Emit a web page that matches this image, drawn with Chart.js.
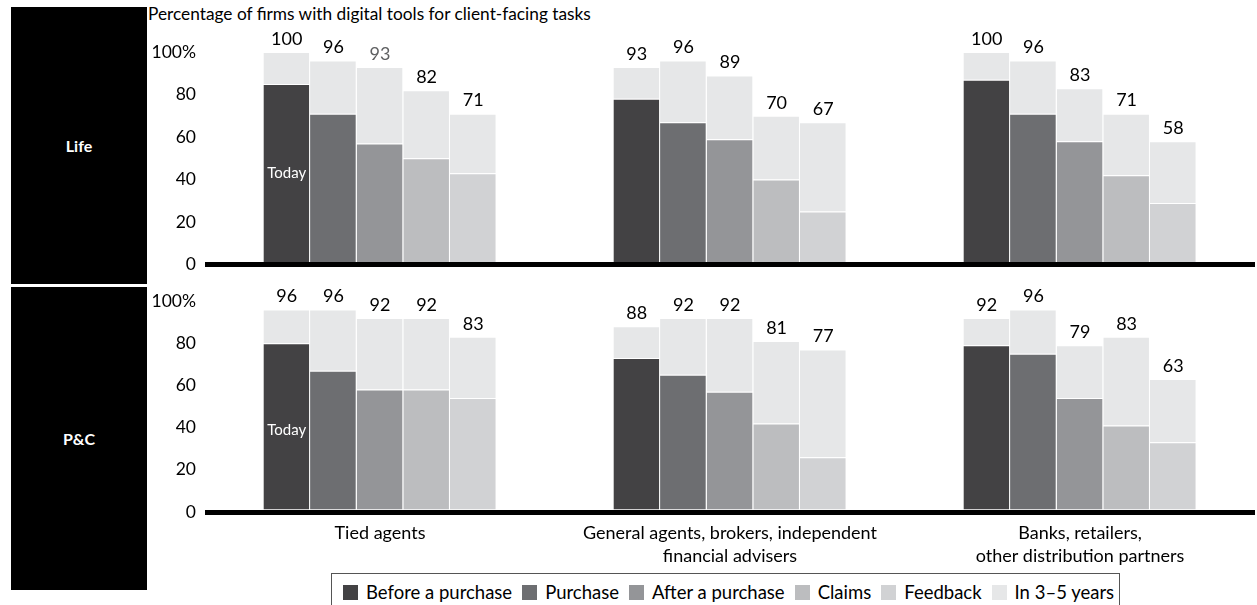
<!DOCTYPE html>
<html>
<head>
<meta charset="utf-8">
<script src="https://cdn.jsdelivr.net/npm/chart.js@4.4.0/dist/chart.umd.min.js"></script>
<style>
  body { margin: 0; width: 1257px; height: 605px; overflow: hidden; background: #fff; position: relative; font-family: Lato, sans-serif; }
  .side { position: absolute; left: 11px; width: 136px; background: #000; color: #fff; font-weight: bold; font-size: 16px; display: flex; align-items: center; justify-content: center; }
  #title { position: absolute; left: 148px; top: 3px; font-size: 17.3px; color: #000; }
  canvas { position: absolute; left: 0; }
  #legend { position: absolute; left: 331px; top: 573px; width: 789px; height: 45px; background: #fff; border: 1px solid #555; box-sizing: border-box; display: flex; align-items: flex-start; padding: 7px 0 0 11px; font-size: 18.5px; }
  #legend span.sw { display: inline-block; width: 15px; height: 15px; margin-right: 8px; vertical-align: -1px; }
  #legend .item { margin-right: 10px; white-space: nowrap; }
</style>
</head>
<body>
<div class="side" style="top:7px;height:277px;">Life</div>
<div class="side" style="top:287px;height:303px;">P&amp;C</div>
<div id="title">Percentage of firms with digital tools for client-facing tasks</div>
<canvas id="life" width="1257" height="284" style="top:0"></canvas>
<canvas id="pc" width="1257" height="325" style="top:280px"></canvas>
<div id="legend"></div>
<script>
const groups = ['Tied agents', ['General agents, brokers, independent', 'financial advisers'], ['Banks, retailers,', 'other distribution partners']];
const tasks = ['Before a purchase', 'Purchase', 'After a purchase', 'Claims', 'Feedback'];
const futureLabel = 'In 3–5 years';

// one row per task, values for [tied, general agents, banks]
const lifeToday  = [[85, 78, 87], [71, 67, 71], [57, 59, 58], [50, 40, 42], [43, 25, 29]];
const lifeFuture = [[100, 93, 100], [96, 96, 96], [93, 89, 83], [82, 70, 71], [71, 67, 58]];
const pcToday    = [[80, 73, 79], [67, 65, 75], [58, 57, 54], [58, 42, 41], [54, 26, 33]];
const pcFuture   = [[96, 88, 92], [96, 92, 96], [92, 92, 79], [92, 81, 83], [83, 77, 63]];

const taskColors = ['#434244', '#6d6e71', '#949598', '#bcbdbf', '#d1d2d4'];
const futureColor = '#e6e7e8';
const FONT = 'Lato';

function buildDatasets(today, future) {
  const ds = [];
  tasks.forEach((t, i) => {
    const common = { stack: 's' + i, borderColor: '#fff', borderWidth: { top: 1, right: 1, bottom: 0, left: 0 },
      borderSkipped: false, inflateAmount: 0, categoryPercentage: 0.666, barPercentage: 1 };
    ds.push(Object.assign({ label: t, data: today[i], backgroundColor: taskColors[i] }, common));
    ds.push(Object.assign({ label: futureLabel, data: future[i].map((v, g) => v - today[i][g]), backgroundColor: futureColor }, common));
  });
  return ds;
}

// totals above the bars + the "Today" tag
function makeLabels(future, todayAt, grey) {
  return {
    id: 'valueLabels',
    afterDatasetsDraw(chart) {
      const ctx = chart.ctx;
      ctx.save();
      ctx.font = '18px ' + FONT;
      ctx.textAlign = 'center';
      ctx.textBaseline = 'bottom';
      future.forEach((row, t) => {
        const meta = chart.getDatasetMeta(t * 2 + 1);
        meta.data.forEach((bar, g) => {
          ctx.fillStyle = (grey && grey[0] === t && grey[1] === g) ? '#5f6062' : '#000';
          ctx.fillText(row[g], bar.x, bar.y - 4);
        });
      });
      const first = chart.getDatasetMeta(0).data[0];
      ctx.font = '15px ' + FONT;
      ctx.fillStyle = '#fff';
      ctx.textBaseline = 'middle';
      ctx.fillText('Today', first.x, chart.scales.y.getPixelForValue(todayAt));
      ctx.restore();
    }
  };
}

function makeOptions(padTop, padBottom, showX) {
  return {
    responsive: false,
    animation: false,
    layout: { padding: { top: padTop, left: 145, right: 2, bottom: padBottom } },
    plugins: { legend: { display: false }, tooltip: { enabled: false } },
    scales: {
      x: {
        stacked: true,
        display: showX,
        grid: { display: false },
        border: { display: false },
        afterFit(s) { s.height = showX ? 70 : 0; },
        ticks: { color: '#000', padding: 2, maxRotation: 0, autoSkip: false, font: { family: FONT, size: 18, lineHeight: 1.25 } }
      },
      y: {
        stacked: true,
        min: 0,
        max: 100,
        afterFit(s) { s.width = 60; },
        border: { display: false },
        grid: {
          z: 1,
          drawTicks: false,
          color: c => c.tick.value === 0 ? '#000' : 'rgba(0,0,0,0)',
          lineWidth: c => c.tick.value === 0 ? 5 : 0
        },
        ticks: { stepSize: 20, padding: 9, color: '#000', font: { family: FONT, size: 17.5 },
          callback: v => v === 100 ? '100%' : v }
      }
    }
  };
}

new Chart(document.getElementById('life'), {
  type: 'bar',
  data: { labels: groups, datasets: buildDatasets(lifeToday, lifeFuture) },
  options: makeOptions(52, 3, false),
  plugins: [makeLabels(lifeFuture, 43, [2, 0])]
});

new Chart(document.getElementById('pc'), {
  type: 'bar',
  data: { labels: groups, datasets: buildDatasets(pcToday, pcFuture) },
  options: makeOptions(21, 23, true),
  plugins: [makeLabels(pcFuture, 39, null)]
});

// legend
const legend = document.getElementById('legend');
tasks.concat([futureLabel]).forEach((name, i) => {
  const item = document.createElement('div');
  item.className = 'item';
  const sw = document.createElement('span');
  sw.className = 'sw';
  sw.style.background = i < tasks.length ? taskColors[i] : futureColor;
  item.appendChild(sw);
  item.appendChild(document.createTextNode(name));
  legend.appendChild(item);
});
</script>
</body>
</html>
